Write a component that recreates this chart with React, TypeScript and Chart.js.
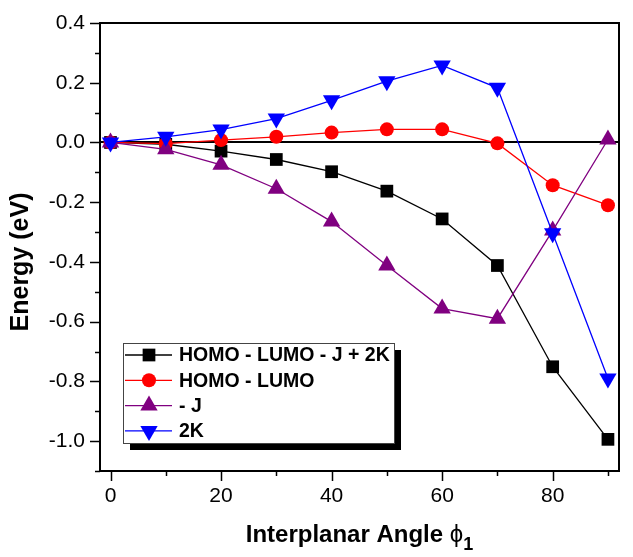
import React, { useEffect, useRef } from 'react';
import { Chart, registerables } from 'chart.js';

Chart.register(...registerables);

// ---- data ----
const angles = [0, 10, 20, 30, 40, 50, 60, 70, 80, 90];
const totalGap = [0, -0.006, -0.029, -0.057, -0.098, -0.163, -0.256, -0.412, -0.751, -0.994];
const homoLumo = [0, -0.004, 0.008, 0.019, 0.033, 0.044, 0.044, -0.003, -0.143, -0.21];
const minusJ = [0, -0.023, -0.075, -0.155, -0.265, -0.412, -0.556, -0.59, -0.295, 0.01];
const twoK = [0, 0.019, 0.043, 0.08, 0.141, 0.205, 0.258, 0.183, -0.304, -0.79];

const seriesNames = ['HOMO - LUMO - J + 2K', 'HOMO - LUMO', '- J', '2K'];
const seriesColors = ['#000000', '#ff0000', '#800080', '#0000ff'];
const seriesMarkers = ['rect', 'circle', 'triangle', 'triangle'];
const seriesRotation = [0, 0, 0, 180];
const seriesRadius = [9, 7, 10, 10];

const xTitle = 'Interplanar Angle ';
const xTitleSymbol = '\u03d5';
const xTitleSub = '1';
const yTitle = 'Energy (eV)';

const FONT = '"Liberation Sans", Arial, sans-serif';

function drawMarker(ctx: CanvasRenderingContext2D, style: string, x: number, y: number, r: number, rotation: number) {
  ctx.beginPath();
  if (style === 'rect') {
    const s = r * Math.SQRT1_2;
    ctx.rect(x - s, y - s, 2 * s, 2 * s);
  } else if (style === 'circle') {
    ctx.arc(x, y, r, 0, Math.PI * 2);
  } else {
    let rad = (rotation * Math.PI) / 180;
    for (let k = 0; k < 3; k++) {
      const px = x + Math.sin(rad) * r;
      const py = y - Math.cos(rad) * r;
      if (k === 0) ctx.moveTo(px, py);
      else ctx.lineTo(px, py);
      rad += (2 * Math.PI) / 3;
    }
  }
  ctx.closePath();
  ctx.fill();
}

const framePlugin = {
  id: 'frameAndZero',
  beforeDatasetsDraw(chart: any) {
    const ctx = chart.ctx as CanvasRenderingContext2D;
    const { left, right } = chart.chartArea;
    const y0 = chart.scales.y.getPixelForValue(0);
    ctx.save();
    ctx.strokeStyle = '#000';
    ctx.lineWidth = 2;
    ctx.beginPath();
    ctx.moveTo(left, Math.round(y0));
    ctx.lineTo(right, Math.round(y0));
    ctx.stroke();
    ctx.restore();
  },
  afterDraw(chart: any) {
    const ctx = chart.ctx as CanvasRenderingContext2D;
    const { left, right, top, bottom } = chart.chartArea;
    ctx.save();
    ctx.strokeStyle = '#000';
    ctx.lineWidth = 2;
    ctx.beginPath();
    ctx.moveTo(left, top);
    ctx.lineTo(right, top);
    ctx.lineTo(right, bottom);
    ctx.stroke();

    // tick marks (major / minor) from the scales' own ticks
    ctx.lineWidth = 1.5;
    const xs = chart.scales.x;
    xs.ticks.forEach((t: any) => {
      const px = Math.round(xs.getPixelForValue(t.value)) + 0.5;
      const major = Math.round(t.value / 10) % 2 === 0;
      ctx.beginPath();
      ctx.moveTo(px, bottom);
      ctx.lineTo(px, bottom + (major ? 10 : 5));
      ctx.stroke();
    });
    const ys = chart.scales.y;
    ys.ticks.forEach((t: any) => {
      const py = Math.round(ys.getPixelForValue(t.value)) + 0.5;
      const major = Math.round(t.value * 10) % 2 === 0;
      ctx.beginPath();
      ctx.moveTo(left, py);
      ctx.lineTo(left - (major ? 10 : 5), py);
      ctx.stroke();
    });

    // axis titles
    ctx.fillStyle = '#000';
    ctx.textBaseline = 'alphabetic';
    ctx.textAlign = 'left';
    ctx.font = `bold 24px ${FONT}`;
    const w1 = ctx.measureText(xTitle).width;
    ctx.font = `24px ${FONT}`;
    const w2 = ctx.measureText(xTitleSymbol).width;
    ctx.font = `bold 18px ${FONT}`;
    const w3 = ctx.measureText(xTitleSub).width;
    const cx = (left + right) / 2;
    let sx = cx - (w1 + w2 + w3) / 2;
    const base = 542;
    ctx.font = `bold 24px ${FONT}`;
    ctx.fillText(xTitle, sx, base);
    sx += w1;
    ctx.font = `24px ${FONT}`;
    ctx.fillText(xTitleSymbol, sx, base);
    sx += w2;
    ctx.font = `bold 18px ${FONT}`;
    ctx.fillText(xTitleSub, sx, base + 8);

    ctx.save();
    ctx.translate(21, 262);
    ctx.rotate(-Math.PI / 2);
    ctx.textAlign = 'center';
    ctx.textBaseline = 'middle';
    ctx.font = `bold 25px ${FONT}`;
    ctx.fillText(yTitle, 0, 0);
    ctx.restore();

    // legend box with shadow
    const bx = left + 23;
    const by = bottom - 128;
    const bw = 271;
    const bh = 100;
    ctx.fillStyle = '#000';
    ctx.fillRect(bx + 7, by + 7, bw, bh);
    ctx.fillStyle = '#fff';
    ctx.fillRect(bx, by, bw, bh);
    ctx.strokeStyle = '#444';
    ctx.lineWidth = 1;
    ctx.strokeRect(bx + 0.5, by + 0.5, bw, bh);

    chart.data.datasets.forEach((ds: any, i: number) => {
      const ry = by + 12 + i * 25.3;
      ctx.strokeStyle = ds.borderColor;
      ctx.lineWidth = 1.3;
      ctx.beginPath();
      ctx.moveTo(bx + 2, ry);
      ctx.lineTo(bx + 49, ry);
      ctx.stroke();
      ctx.fillStyle = ds.pointBackgroundColor;
      drawMarker(ctx, ds.pointStyle, bx + 26, ry, ds.pointRadius, ds.pointRotation);
      ctx.fillStyle = '#000';
      ctx.font = `bold 19.5px ${FONT}`;
      ctx.textAlign = 'left';
      ctx.textBaseline = 'middle';
      ctx.fillText(ds.label, bx + 56, ry + 1);
    });
    ctx.restore();
  },
};

export default function App() {
  const canvasRef = useRef<HTMLCanvasElement | null>(null);

  useEffect(() => {
    document.body.style.margin = '0';
    const canvas = canvasRef.current;
    if (!canvas) return;
    const seriesData = [totalGap, homoLumo, minusJ, twoK];
    const datasets = seriesData.map((vals, i) => ({
      label: seriesNames[i],
      data: angles.map((a, k) => ({ x: a, y: vals[k] })),
      borderColor: seriesColors[i],
      backgroundColor: seriesColors[i],
      pointBackgroundColor: seriesColors[i],
      pointBorderColor: seriesColors[i],
      pointBorderWidth: 0,
      borderWidth: 1.3,
      pointStyle: seriesMarkers[i],
      pointRotation: seriesRotation[i],
      pointRadius: seriesRadius[i],
      pointHoverRadius: seriesRadius[i],
      tension: 0,
      fill: false,
      order: 4 - i,
    }));

    const chart = new Chart(canvas, {
      type: 'line',
      data: { datasets },
      plugins: [framePlugin],
      options: {
        animation: false,
        responsive: false,
        devicePixelRatio: 1,
        layout: { padding: { top: 23, right: 14, left: 0, bottom: 0 } },
        plugins: {
          legend: { display: false },
          tooltip: { enabled: false },
          title: { display: false },
        },
        scales: {
          x: {
            type: 'linear',
            min: -1.9,
            max: 92,
            afterFit: (s: any) => {
              s.height = 86;
            },
            border: { display: true, color: '#000', width: 2 },
            grid: {
              display: true,
              drawOnChartArea: false,
              drawTicks: true,
              tickLength: 10,
              tickColor: 'rgba(0,0,0,0)',
            },
            ticks: {
              stepSize: 10,
              includeBounds: false,
              autoSkip: false,
              maxRotation: 0,
              padding: 3,
              color: '#000',
              font: { family: FONT, size: 21 },
              callback: (v: any) => (Math.round(Number(v)) % 20 === 0 ? String(Math.round(Number(v))) : ''),
            },
          },
          y: {
            type: 'linear',
            min: -1.1,
            max: 0.4,
            afterFit: (s: any) => {
              s.width = 100;
            },
            border: { display: true, color: '#000', width: 2 },
            grid: {
              display: true,
              drawOnChartArea: false,
              drawTicks: true,
              tickLength: 10,
              tickColor: 'rgba(0,0,0,0)',
            },
            ticks: {
              stepSize: 0.1,
              autoSkip: false,
              padding: 5,
              color: '#000',
              font: { family: FONT, size: 21 },
              callback: (v: any) => {
                const n = Math.round(Number(v) * 10);
                return n % 2 === 0 ? (n / 10).toFixed(1) : '';
              },
            },
          },
        },
      },
    });
    return () => chart.destroy();
  }, []);

  return (
    <div style={{ position: 'absolute', left: 0, top: 0, width: 633, height: 557 }}>
      <canvas ref={canvasRef} width={633} height={557} style={{ display: 'block' }} />
    </div>
  );
}
